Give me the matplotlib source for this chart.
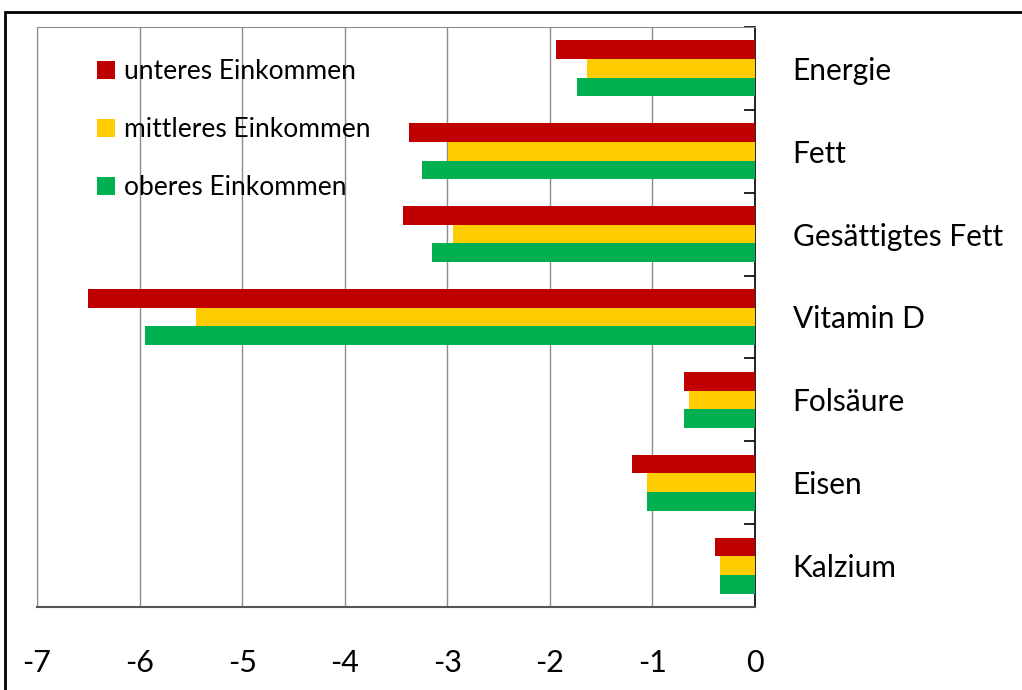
import numpy as np
import matplotlib.pyplot as plt
from matplotlib.patches import Rectangle

categories = ["Energie", "Fett", "Gesättigtes Fett", "Vitamin D", "Folsäure", "Eisen", "Kalzium"]
series_names = ["unteres Einkommen", "mittleres Einkommen", "oberes Einkommen"]
unteres = [-1.94, -3.37, -3.43, -6.50, -0.69, -1.20, -0.39]
mittleres = [-1.64, -2.99, -2.94, -5.45, -0.64, -1.05, -0.34]
oberes = [-1.74, -3.25, -3.15, -5.95, -0.69, -1.05, -0.34]
colors = ["#C00000", "#FFCC00", "#00B050"]
xticks = [-7, -6, -5, -4, -3, -2, -1, 0]

plt.rcParams['font.family'] = ['Lato', 'DejaVu Sans']

fig = plt.figure(figsize=(10.22, 6.90), dpi=100)
ax = fig.add_axes([37 / 1022, 1 - 607 / 690, (755 - 37) / 1022, (607 - 27) / 690])

y = np.arange(len(categories))
h = 0.225
for i, (vals, name) in enumerate(zip([unteres, mittleres, oberes], series_names)):
    ax.barh(y + (i - 1) * h, vals, height=h, color=colors[i], label=name, zorder=3)

ax.set_xlim(-7, 0)
ax.set_ylim(len(categories) - 0.5, -0.5)
ax.set_xticks(xticks)
ax.set_xticklabels([str(t) for t in xticks], fontsize=22)
ax.tick_params(axis='x', length=0, pad=30)
ax.grid(axis='x', color='#8c8c8c', linewidth=1, zorder=0)

# category labels on the right of the zero line
ax.yaxis.tick_right()
ax.set_yticks(y)
ax.set_yticklabels(categories, fontsize=21.5)
ax.tick_params(axis='y', which='major', length=0, pad=27)
ax.set_yticks(np.arange(len(categories) + 1) - 0.5, minor=True)
ax.tick_params(axis='y', which='minor', direction='in', length=8, width=1.2, color='black')

for side in ['left', 'top']:
    ax.spines[side].set_color('#8c8c8c')
ax.spines['bottom'].set_color('#555555')
ax.spines['bottom'].set_linewidth(1.5)
ax.spines['right'].set_color('black')
ax.spines['right'].set_linewidth(1.2)

ax.legend(loc='upper left', bbox_to_anchor=(0.051, 0.985), frameon=False, fontsize=19,
          handlelength=0.65, handleheight=0.65, handletextpad=0.35, labelspacing=1.25)

# outer frame of the original picture
fig.patches.append(Rectangle((5 / 1022, -0.1), 1.2, 1 - 12 / 690 + 0.1, transform=fig.transFigure,
                             fill=False, edgecolor='black', linewidth=2))

fig.savefig("out.png", dpi=100)
